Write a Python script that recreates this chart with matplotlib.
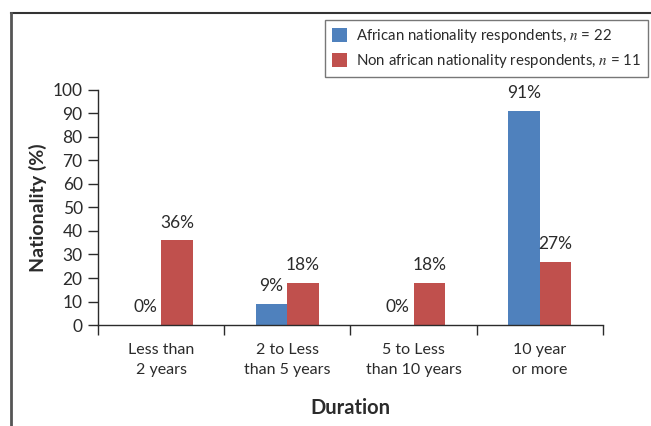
import numpy as np
import matplotlib.pyplot as plt
from matplotlib.lines import Line2D

plt.rcParams['font.family'] = ['Lato', 'DejaVu Sans']
plt.rcParams['mathtext.fontset'] = 'stix'

categories = ['Less than\n2 years', '2 to Less\nthan 5 years',
              '5 to Less\nthan 10 years', '10 year\nor more']
african = [0, 9, 0, 91]
non_african = [36, 18, 18, 27]
series_names = ['African nationality respondents, $n$ = 22',
                'Non african nationality respondents, $n$ = 11']

blue = '#4F81BD'
red = '#C0504D'
dark = '#2b2b2b'

fig = plt.figure(figsize=(6.51, 4.26), dpi=100)
ax = fig.add_axes([0.1505, 0.237, 0.7755, 0.552])

x = np.arange(len(categories))
w = 0.25
b1 = ax.bar(x - w / 2, african, w, color=blue, label=series_names[0])
b2 = ax.bar(x + w / 2, non_african, w, color=red, label=series_names[1])

for bars, vals in ((b1, african), (b2, non_african)):
    for bar, v in zip(bars, vals):
        ax.annotate(f'{v}%', (bar.get_x() + bar.get_width() / 2, v),
                    xytext=(0, 7), textcoords='offset points',
                    ha='center', va='bottom', fontsize=12.5, color=dark)

ax.set_xlim(-0.5, 3.5)
ax.set_ylim(0, 100)
ax.set_yticks(range(0, 101, 10))
ax.set_xticks(np.arange(-0.5, 3.6, 1))
ax.set_xticklabels([])
ax.set_xticks(x, minor=True)
ax.set_xticklabels(categories, minor=True, fontsize=11.5, color=dark,
                   linespacing=1.55)
ax.tick_params(axis='x', which='minor', length=0, pad=13)
ax.tick_params(axis='x', which='major', length=7, width=1, color=dark)
ax.tick_params(axis='y', length=7, width=1, color=dark, labelsize=12.5,
               labelcolor=dark, pad=4)
for s in ('top', 'right'):
    ax.spines[s].set_visible(False)
for s in ('left', 'bottom'):
    ax.spines[s].set_color(dark)
    ax.spines[s].set_linewidth(1)

ax.set_ylabel('Nationality (%)', fontsize=14, fontweight='bold',
              color=dark, labelpad=4)
ax.set_xlabel('Duration', fontsize=14.5, fontweight='bold', color=dark,
              labelpad=15)

leg = fig.legend(loc='upper right', bbox_to_anchor=(0.995, 0.952),
                 fontsize=10.8, frameon=True, fancybox=False,
                 handlelength=1.0, handleheight=1.0, handletextpad=0.6,
                 borderpad=0.45, labelspacing=0.45, borderaxespad=0)
leg.get_frame().set_edgecolor('#555555')
leg.get_frame().set_linewidth(1)
for t in leg.get_texts():
    t.set_color(dark)

# outer frame lines (top and left)
fig.add_artist(Line2D([0.017, 1.0], [0.969, 0.969], color='#333333', lw=1.5))
fig.add_artist(Line2D([0.017, 0.017], [0.0, 0.969], color='#555555', lw=2))

fig.savefig('out.png', dpi=100)
